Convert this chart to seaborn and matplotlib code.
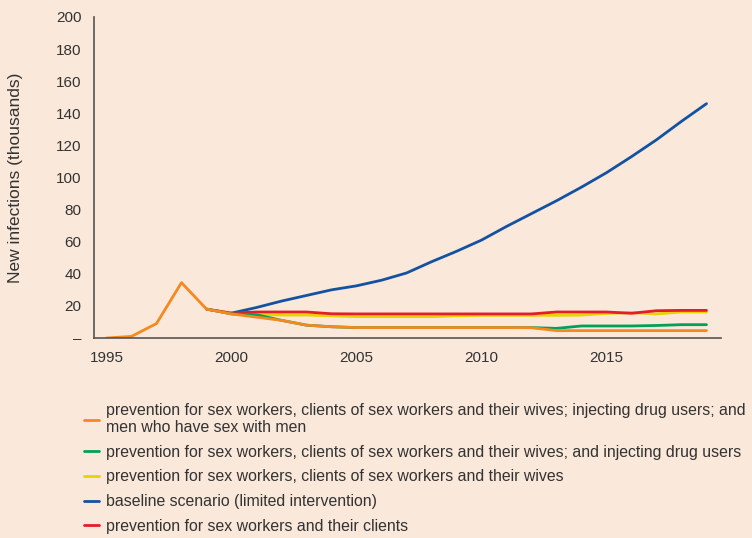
import numpy as np
import pandas as pd
import seaborn as sns
import matplotlib.pyplot as plt
from matplotlib.ticker import FixedLocator

# data (thousands of new infections)
years_hist = [1995, 1996, 1997, 1998, 1999]
hist_vals = [0, 1, 9, 34.5, 18]

years_proj = list(range(1999, 2020))
baseline = [np.nan, 15.5, 19, 23, 26.5, 30, 32.5, 36, 40.5, 47.5, 54, 61, 69.5, 77.5,
            85.5, 94, 103, 113, 123.5, 135, 146]
sw_clients = [18, 15.5, 16.2, 16.2, 16.2, 15.1, 15, 15, 15, 15, 15, 15, 15, 15,
              16.2, 16.2, 16.2, 15.4, 17, 17.2, 17.2]
sw_clients_wives = [18, 15.5, 14.5, 14.3, 14.3, 13.8, 13.3, 13.3, 13.3, 13.3, 13.8, 14.1, 14.1, 14.1,
                    14.1, 14.3, 15.3, 15.8, 15.0, 16.2, 16.2]
plus_idu = [18, 15, 14.5, 11, 8, 7, 6.5, 6.5, 6.5, 6.5, 6.5, 6.5, 6.5, 6.5,
            6, 7.5, 7.5, 7.5, 7.8, 8.3, 8.3]
plus_msm = [18, 15, 13, 11, 8, 7, 6.5, 6.5, 6.5, 6.5, 6.5, 6.5, 6.5, 6.4,
            4.6, 4.6, 4.6, 4.6, 4.6, 4.6, 4.6]

labels = {
    'msm': 'prevention for sex workers, clients of sex workers and their wives; injecting drug users; and\nmen who have sex with men',
    'idu': 'prevention for sex workers, clients of sex workers and their wives; and injecting drug users',
    'wives': 'prevention for sex workers, clients of sex workers and their wives',
    'base': 'baseline scenario (limited intervention)',
    'clients': 'prevention for sex workers and their clients',
}
colors = {'msm': '#F5891F', 'idu': '#00A05A', 'wives': '#EAD200', 'base': '#1352A2', 'clients': '#E31E26'}

bg = '#FAE8DA'
sns.set_style('white')
plt.rcParams['font.family'] = ['Liberation Sans', 'DejaVu Sans']
plt.rcParams['axes.facecolor'] = bg
plt.rcParams['figure.facecolor'] = bg

fig = plt.figure(figsize=(7.52, 5.38), dpi=100)
ax = fig.add_axes([94 / 752, 1 - 338 / 538, (721 - 94) / 752, (338 - 17) / 538])

lw = 2.0
sns.lineplot(x=years_proj, y=baseline, color=colors['base'], lw=lw, ax=ax, label=labels['base'])
sns.lineplot(x=years_proj, y=sw_clients_wives, color=colors['wives'], lw=lw, ax=ax, label=labels['wives'])
sns.lineplot(x=years_proj, y=sw_clients, color=colors['clients'], lw=lw, ax=ax, label=labels['clients'])
sns.lineplot(x=years_proj, y=plus_idu, color=colors['idu'], lw=lw, ax=ax, label=labels['idu'])
msm_x = years_hist + years_proj[1:]
msm_y = hist_vals + plus_msm[1:]
sns.lineplot(x=msm_x, y=msm_y, color=colors['msm'], lw=lw, ax=ax, label=labels['msm'])

ax.set_xlim(1994.5, 2019.58)
ax.set_ylim(0, 200)

# y axis
ax.set_yticks(range(0, 201, 20))
ax.set_yticklabels(['\u2013'] + [str(v) for v in range(20, 201, 20)])
# x axis: labels at year centres, tick marks at year boundaries
ax.set_xticks([1995, 2000, 2005, 2010, 2015])
ax.set_xticklabels(['1995', '2000', '2005', '2010', '2015'])
ax.xaxis.set_minor_locator(FixedLocator(np.arange(1994.5, 2020, 1)))
ax.tick_params(axis='x', which='major', length=0, pad=9, labelsize=11, labelcolor='#333333')
ax.tick_params(axis='x', which='minor', length=5, width=1, color='#555555', direction='out')
ax.tick_params(axis='y', which='major', length=5, width=1, color='#555555', direction='out',
               labelsize=11, labelcolor='#333333', pad=4)

for side in ['top', 'right']:
    ax.spines[side].set_visible(False)
for side in ['left', 'bottom']:
    ax.spines[side].set_color('#555555')
    ax.spines[side].set_linewidth(1.2)

ax.set_ylabel('New infections (thousands)', fontsize=12.5, color='#333333')
ax.yaxis.set_label_coords(-0.114, 0.5)

# legend in the order of the reference
handles, labs = ax.get_legend_handles_labels()
order = [labels['msm'], labels['idu'], labels['wives'], labels['base'], labels['clients']]
hmap = dict(zip(labs, handles))
leg = ax.legend([hmap[l] for l in order], order, loc='upper left', bbox_to_anchor=(78 / 752, 1 - 397 / 538),
                bbox_transform=fig.transFigure, frameon=False, fontsize=11.4, handlelength=0.9,
                handletextpad=0.5, labelspacing=0.62, labelcolor='#333333', borderaxespad=0)
for t in leg.get_texts():
    t.set_linespacing(1.12)

plt.savefig('out.png', dpi=100, facecolor=bg)
